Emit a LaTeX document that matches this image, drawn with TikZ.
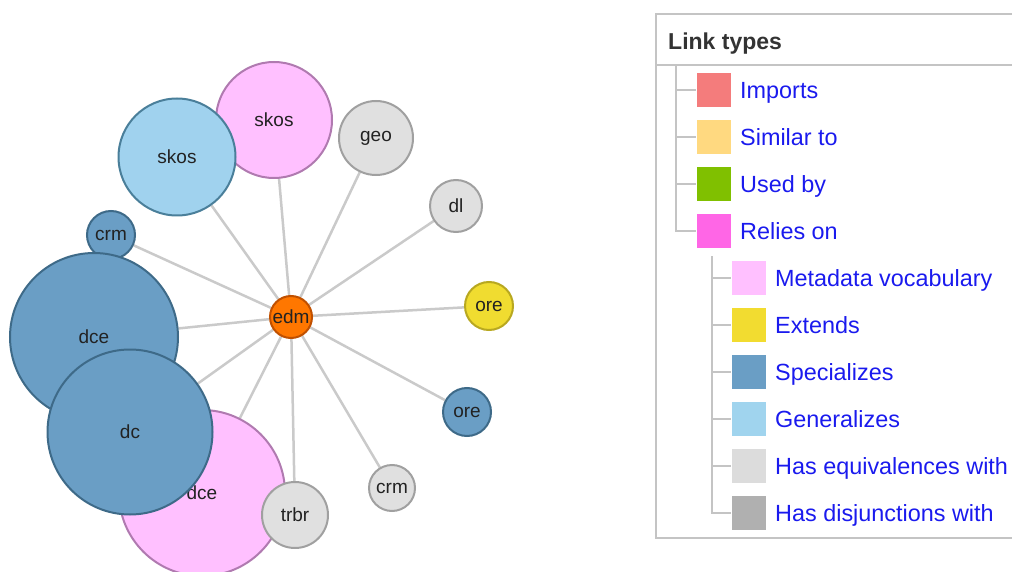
\documentclass[tikz,border=0pt]{standalone}
\usepackage{fontspec}
\setmainfont{Liberation Sans}
\usetikzlibrary{backgrounds}
\definecolor{edgegray}{HTML}{CACACA}
\definecolor{txtdark}{HTML}{222222}
\definecolor{pinkfill}{HTML}{FFC0FF}
\definecolor{pinkdraw}{HTML}{B07AB0}
\definecolor{lbluefill}{HTML}{A0D2EE}
\definecolor{lbluedraw}{HTML}{4A7F9A}
\definecolor{bluefill}{HTML}{6A9EC5}
\definecolor{bluedraw}{HTML}{3E6A88}
\definecolor{greyfill}{HTML}{E0E0E0}
\definecolor{greydraw}{HTML}{A0A0A0}
\definecolor{yelfill}{HTML}{F0DC30}
\definecolor{yeldraw}{HTML}{B8A820}
\definecolor{orafill}{HTML}{FF7700}
\definecolor{oradraw}{HTML}{C05000}
\definecolor{legblue}{HTML}{1A1AEE}
\definecolor{legtitle}{HTML}{333333}
\definecolor{legline}{HTML}{C4C4C4}
\definecolor{cImports}{HTML}{F47C7C}
\definecolor{cSimilar}{HTML}{FFD980}
\definecolor{cUsed}{HTML}{80C000}
\definecolor{cRelies}{HTML}{FF66E6}
\definecolor{cMeta}{HTML}{FFC0FF}
\definecolor{cExt}{HTML}{F2DC30}
\definecolor{cSpec}{HTML}{6A9EC5}
\definecolor{cGen}{HTML}{A0D4EE}
\definecolor{cEquiv}{HTML}{DCDCDC}
\definecolor{cDisj}{HTML}{B0B0B0}
\begin{document}
\begin{tikzpicture}[x=1pt,y=-1pt,
  edge/.style={draw=edgegray, line width=2.5pt},
  vnode/.style={circle, inner sep=0pt, line width=2pt, text=txtdark, font=\fontsize{19}{22}\selectfont},
  pinkv/.style={vnode, fill=pinkfill, draw=pinkdraw},
  lbluev/.style={vnode, fill=lbluefill, draw=lbluedraw},
  bluev/.style={vnode, fill=bluefill, draw=bluedraw},
  greyv/.style={vnode, fill=greyfill, draw=greydraw},
  yelv/.style={vnode, fill=yelfill, draw=yeldraw},
  orav/.style={vnode, fill=orafill, draw=oradraw},
  legsq/.style={rectangle, inner sep=0pt, minimum size=34pt},
  legtext/.style={anchor=base west, inner sep=0pt, text=legblue, font=\fontsize{23.4}{27}\selectfont},
  tree/.style={draw=legline, line width=2pt}
]
\useasboundingbox (0,0) rectangle (1012,572);
\clip (0,0) rectangle (1012,572);
% graph nodes
\node[pinkv, minimum size=116pt] (skosP) at (274,120) {skos};
\node[lbluev, minimum size=117pt] (skosB) at (177,157) {skos};
\node[greyv, minimum size=74pt] (geo) at (376,138) {geo};
\node[greyv, minimum size=52pt] (dl) at (456,206) {dl};
\node[yelv, minimum size=48pt] (oreY) at (489,306) {ore};
\node[bluev, minimum size=48pt] (oreB) at (467,412) {ore};
\node[greyv, minimum size=46pt] (crmG) at (392,488) {crm};
\node[bluev, minimum size=48pt] (crmB) at (111,235) {crm};
\node[bluev, minimum size=168pt] (dceB) at (94,337) {dce};
\node[pinkv, minimum size=166pt] (dceP) at (202,493) {dce};
\node[bluev, minimum size=165pt] (dc) at (130,432) {dc};
\node[greyv, minimum size=66pt] (trbr) at (295,515) {trbr};
\node[orav, minimum size=42pt] (edm) at (291,317) {edm};
\begin{scope}[on background layer]
\foreach \t in {skosP,skosB,geo,dl,oreY,oreB,crmG,crmB,dceB,dceP,dc,trbr}
  \draw[edge] (edm) -- (\t);
\end{scope}
% legend frame
\draw[draw=legline, line width=2pt] (656,14) rectangle (1030,538);
\node[anchor=base west, inner sep=0pt, text=legtitle, font=\fontsize{23}{27}\selectfont\bfseries] (title) at (668,50) {Link types};
\coordinate (sepL) at (656,65);
\coordinate (sepR) at (1030,65);
\draw[draw=legline, line width=1.5pt] (sepL) -- (sepR);
% level 1
\node[legsq, fill=cImports] (sqImports) at (713.5,90) {};
\node[legsq, fill=cSimilar] (sqSimilar) at (713.5,137) {};
\node[legsq, fill=cUsed] (sqUsed) at (713.5,184) {};
\node[legsq, fill=cRelies] (sqRelies) at (713.5,231) {};
\node[legtext] (tImports) at (740,98.5) {Imports};
\node[legtext] (tSimilar) at (740,145.5) {Similar to};
\node[legtext] (tUsed) at (740,192.5) {Used by};
\node[legtext] (tRelies) at (740,239.5) {Relies on};
% level 2
\node[legsq, fill=cMeta] (sqMeta) at (748.5,278) {};
\node[legsq, fill=cExt] (sqExt) at (748.5,325) {};
\node[legsq, fill=cSpec] (sqSpec) at (748.5,372) {};
\node[legsq, fill=cGen] (sqGen) at (748.5,419) {};
\node[legsq, fill=cEquiv] (sqEquiv) at (748.5,466) {};
\node[legsq, fill=cDisj] (sqDisj) at (748.5,513) {};
\node[legtext] (tMeta) at (775,286.5) {Metadata vocabulary};
\node[legtext] (tExt) at (775,333.5) {Extends};
\node[legtext] (tSpec) at (775,380.5) {Specializes};
\node[legtext] (tGen) at (775,427.5) {Generalizes};
\node[legtext] (tEquiv) at (775,474.5) {Has equivalences with};
\node[legtext] (tDisj) at (775,521.5) {Has disjunctions with};
% tree lines
\begin{scope}[on background layer]
\coordinate (trunkA) at (676,65);
\draw[tree] (trunkA) |- (sqRelies.west);
\foreach \s in {sqImports,sqSimilar,sqUsed}
  \draw[tree] (trunkA |- \s) -- (\s.west);
\coordinate (trunkB) at (712,256);
\draw[tree] (trunkB) |- (sqDisj.west);
\foreach \s in {sqMeta,sqExt,sqSpec,sqGen,sqEquiv}
  \draw[tree] (trunkB |- \s) -- (\s.west);
\end{scope}
\end{tikzpicture}
\end{document}
